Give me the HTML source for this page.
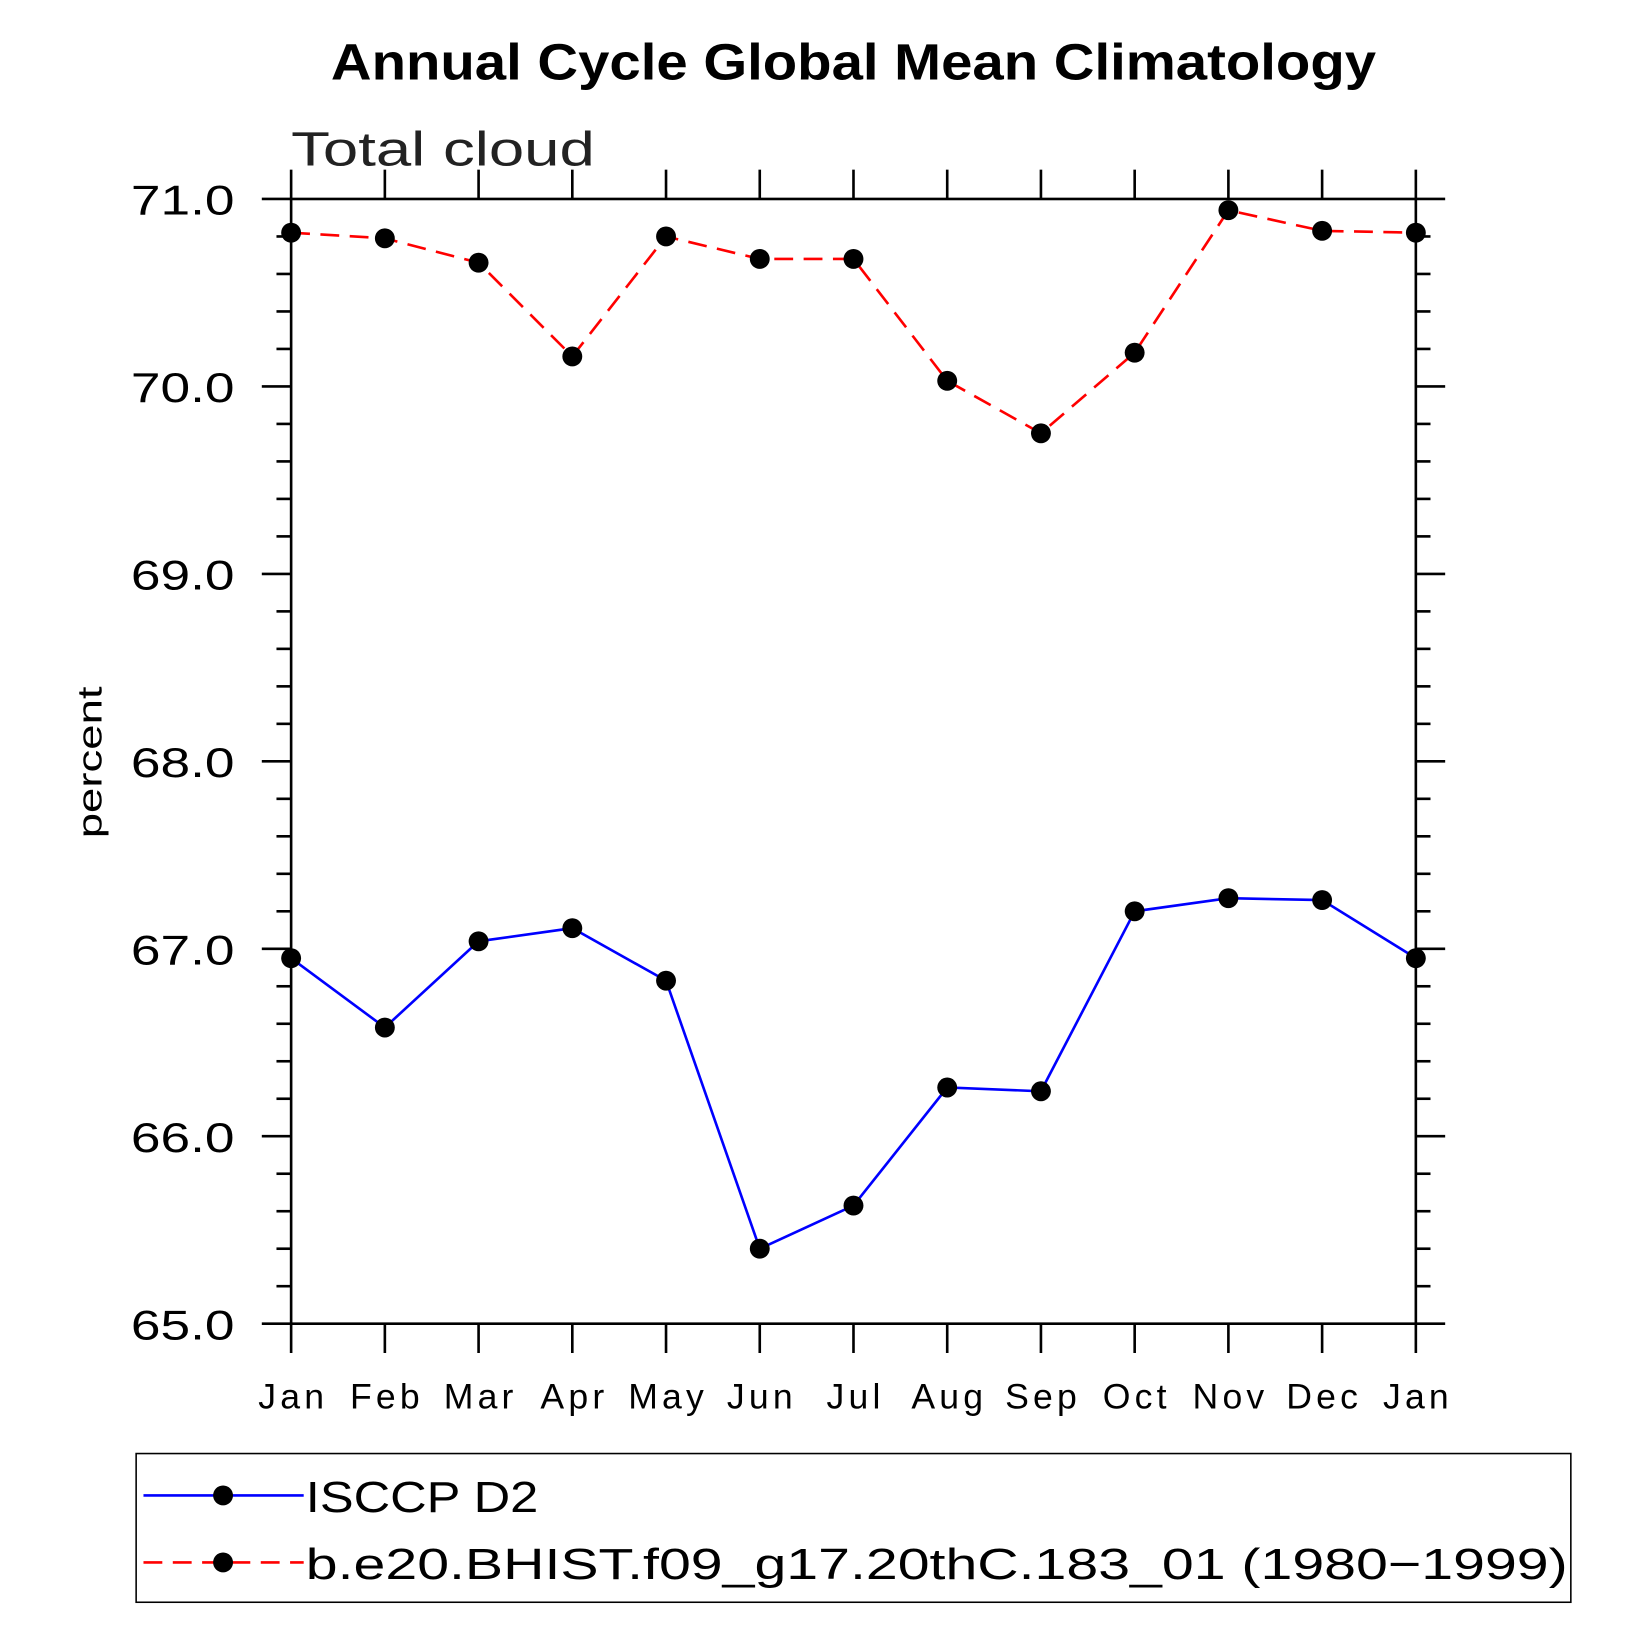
<!DOCTYPE html>
<html><head><meta charset="utf-8"><style>
html,body{margin:0;padding:0;background:#fff}
svg text{font-family:"Liberation Sans",sans-serif}
</style></head><body>
<svg id="c" width="1641" height="1641" viewBox="0 0 1567 1567" xmlns="http://www.w3.org/2000/svg">
<rect width="1567" height="1567" fill="#fff"/>
<text x="316" y="76" textLength="998" lengthAdjust="spacingAndGlyphs" font-size="49" font-weight="bold">Annual Cycle Global Mean Climatology</text>
<text x="278" y="158" textLength="290" lengthAdjust="spacingAndGlyphs" font-size="46" font-weight="300" fill="#222">Total cloud</text>
<text transform="translate(97,728) rotate(-90)" text-anchor="middle" textLength="145" lengthAdjust="spacingAndGlyphs" font-size="33" font-weight="300">percent</text>
<g id="axes"></g>
<g id="series"></g>
<rect x="130" y="1388" width="1370" height="142" fill="none" stroke="#000" stroke-width="1.5"/>
<g>
<line x1="137" y1="1428" x2="290" y2="1428" stroke="#00f" stroke-width="2.5"/>
<circle cx="213" cy="1428" r="9.5" fill="#000"/>
<text x="292" y="1444" textLength="222" lengthAdjust="spacingAndGlyphs" font-size="42" font-weight="300">ISCCP D2</text>
</g>
<g>
<line x1="137" y1="1492" x2="290" y2="1492" stroke="#f00" stroke-width="2.5" stroke-dasharray="18,10"/>
<circle cx="213" cy="1492" r="9.5" fill="#000"/>
<text x="292" y="1508" textLength="1205" lengthAdjust="spacingAndGlyphs" font-size="42" font-weight="300">b.e20.BHIST.f09_g17.20thC.183_01 (1980−1999)</text>
</g>
</svg>
<script>
const months=["Jan","Feb","Mar","Apr","May","Jun","Jul","Aug","Sep","Oct","Nov","Dec","Jan"];
const isccp=[66.95,66.58,67.04,67.11,66.83,65.40,65.63,66.26,66.24,67.20,67.27,67.26,66.95];
const model=[70.82,70.79,70.66,70.16,70.80,70.68,70.68,70.03,69.75,70.18,70.94,70.83,70.82];
const yTicks=[65,66,67,68,69,70,71];
const NS="http://www.w3.org/2000/svg";
const X0=278,X1=1352,Y0=1264,Y1=190,YMIN=65,YMAX=71;
const xs=i=>X0+(X1-X0)*i/(months.length-1);
const ys=v=>Y0-(v-YMIN)/(YMAX-YMIN)*(Y0-Y1);
function mk(t,a,p){const e=document.createElementNS(NS,t);for(const k in a)e.setAttribute(k,a[k]);p.appendChild(e);return e;}
const ax=document.getElementById('axes');
const fr=mk('rect',{x:X0,y:Y1,width:X1-X0,height:Y0-Y1,fill:'none',stroke:'#000','stroke-width':2.5},ax);


months.forEach((m,i)=>{const x=xs(i);
mk('line',{x1:x,y1:Y0,x2:x,y2:Y0+28,stroke:'#000','stroke-width':2.5},ax);
mk('line',{x1:x,y1:Y1,x2:x,y2:Y1-28,stroke:'#000','stroke-width':2.5},ax);
const t=mk('text',{x:x+2,y:Y0+81,'text-anchor':'middle','font-size':34,'font-weight':300,'letter-spacing':4},ax);t.textContent=m;


});
for(let v=YMIN;v<=YMAX+1e-9;v+=0.2){const y=ys(v);const maj=Math.abs(v-Math.round(v))<1e-6;const L=maj?28:14;
mk('line',{x1:X0,y1:y,x2:X0-L,y2:y,stroke:'#000','stroke-width':2.5},ax);
mk('line',{x1:X1,y1:y,x2:X1+L,y2:y,stroke:'#000','stroke-width':2.5},ax);}
yTicks.forEach(v=>{const t=mk('text',{x:125,y:ys(v)+15,'textLength':99,'lengthAdjust':'spacingAndGlyphs','font-size':40,'font-weight':300},ax);t.textContent=v.toFixed(1);

});
const sg=document.getElementById('series');
function series(arr,col,dash,name){const g=mk('g',{},sg);


const a={points:arr.map((v,i)=>xs(i)+','+ys(v)).join(' '),fill:'none',stroke:col,'stroke-width':2.5};if(dash)a['stroke-dasharray']=dash;mk('polyline',a,g);
arr.forEach((v,i)=>{const c=mk('circle',{cx:xs(i),cy:ys(v),r:9.5,fill:'#000'},g);

});}
series(isccp,'#00f',null,'series-isccp');
series(model,'#f00','18,10','series-model');
</script>
</body></html>
